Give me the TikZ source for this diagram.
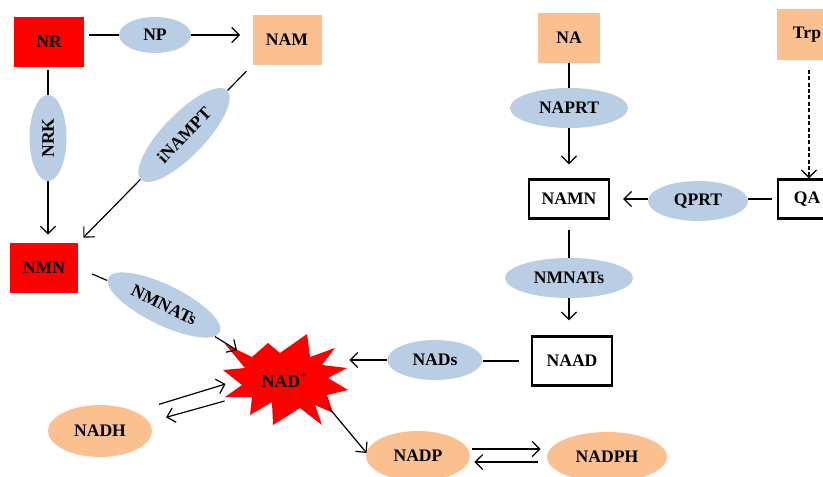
\documentclass[tikz,border=0pt]{standalone}
\usepackage{fontspec}
\setmainfont{Liberation Serif}
\usepackage{tikz}
\usetikzlibrary{shapes,arrows}
\usetikzlibrary{positioning}
\usetikzlibrary{calc}
\usetikzlibrary{arrows.meta}
\definecolor{peach}{HTML}{FAC090}
\definecolor{enzblue}{HTML}{B9CDE5}
\tikzset{>=stealth}
\tikzstyle{line} = [draw, line width=0.6pt, -{Straight Barb[length=3.8pt,width=7.5pt]}]

\begin{document}
\begin{tikzpicture}[
  x=0.5pt, y=-0.5pt,
  every node/.style={font=\bfseries\fontsize{8.8}{10}\selectfont, inner sep=0pt},
  box/.style={rectangle, minimum width=#1, minimum height=25pt},
  redbox/.style={box=#1, fill=red},
  srcbox/.style={box=#1, fill=peach},
  midbox/.style={box=#1, draw, line width=1.1pt, fill=white, minimum height=19.5pt},
  enz/.style={ellipse, fill=enzblue, minimum width=#1, minimum height=20pt},
  cof/.style={ellipse, fill=peach, minimum width=#1, minimum height=25pt}]
  \useasboundingbox (0,0) rectangle (823,476);
	%% States
	\node [redbox=35pt] at (49,42) (NR) {NR};
	\node [enz=36pt, minimum height=18pt] at (155,35) (NP) {NP};
	\node [srcbox=34.5pt] at (287,40) (NAM) {NAM};
	\node [enz=43pt, minimum height=18.5pt, rotate=90] at (48,138) (NRK) {NRK};
	\node [redbox=34pt] at (44,268) (NMN) {NMN};
	\node [enz=62pt, minimum height=21pt, rotate=46] at (184,135) (iNAMPT) {iNAMPT};
	\node [enz=62pt, rotate=-26] at (164,305) (NMNATsA) {NMNATs};
	\node [srcbox=31pt] at (569,38) (NA) {NA};
	\node [srcbox=30pt, minimum height=25.5pt] at (807,35) (Trp) {Trp};
	\node [enz=59pt] at (569,108) (NAPRT) {NAPRT};
	\node [midbox=40pt] at (569,199) (NAMN) {NAMN};
	\node [enz=50pt] at (698,201) (QPRT) {QPRT};
	\node [midbox=29pt] at (807,199) (QA) {QA};
	\node [enz=64pt] at (569,278) (NMNATsB) {NMNATs};
	\node [midbox=40pt, minimum height=24.5pt] at (572,361) (NAAD) {NAAD};
	\node [enz=47.5pt] at (435,360) (NADs) {NADs};
	\fill [red] (225,344) -- (252,357) -- (268,343) -- (280,353) -- (307,334) -- (310,357)
	  -- (335,348) -- (322,365) -- (347,368) -- (328,378) -- (348,390) -- (327,395)
	  -- (333,413) -- (315,405) -- (322,425) -- (300,408) -- (273,425) -- (272,402)
	  -- (250,415) -- (252,397) -- (225,397) -- (242,385) -- (223,370) -- (245,368) -- cycle;
	\node [ellipse, minimum width=62pt, minimum height=46pt] at (285,380) (NAD) {NAD\textsuperscript{+}};
	\node [cof=52pt, minimum height=26pt] at (100,431) (NADH) {NADH};
	\node [cof=52pt] at (418,456) (NADP) {NADP};
	\node [cof=60pt] at (607,457) (NADPH) {NADPH};
	%% Flows
	\draw [line width=0.6pt, shorten <=2.5pt] (NR.east |- NP) -- (NP);
	\path [line, shorten >=6pt] (NP) to (NAM.west |- NP);
	\draw [line width=0.6pt, shorten <=1.5pt] (NRK.east |- NR.south) -- (NRK);
	\path [line, shorten >=4pt] (NRK.west) to (NRK.west |- NMN.north);
	\draw [line width=0.6pt, shorten <=4pt] (NAM.south west) -- (iNAMPT);
	\path [line, shorten >=3.5pt] (iNAMPT) to (NMN.north east);
	\draw [line width=0.6pt, shorten <=7.5pt] (NMN.east) -- (NMNATsA);
	\path [line] (NMNATsA) to (NAD);
	\draw [line width=0.6pt] (NA) -- (NAPRT);
	\path [line, shorten >=7pt] (NAPRT) to (NAMN);
	\path [line, dashed, dash pattern=on 2pt off 1.2pt, shorten <=4.5pt] ([xshift=1pt]Trp.south) to ([xshift=1pt]QA.north);
	\draw [line width=0.6pt, shorten <=2.5pt] (QA.west) -- (QPRT.east |- QA.west);
	\path [line, shorten >=6.5pt] (QPRT.west |- NAMN.east) to (NAMN.east);
	\draw [line width=0.6pt, shorten <=5pt] (NAMN) -- (NMNATsB);
	\path [line, shorten >=7.5pt] (NMNATsB.south) to (NMNATsB.south |- NAAD.north);
	\draw [line width=0.6pt, shorten <=6pt] (NAAD.west) -- (NADs.east |- NAAD.west);
	\path [line, shorten >=1pt] (NADs.west) to (NADs.west -| NAD.east);
	\path [line] ([shift={(22,-8)}]NADH.north east) to ([shift={(3,4)}]NAD.west);
	\path [line] ([shift={(2,21)}]NAD.west) to ([shift={(29,5)}]NADH.north east);
	\path [line] ([shift={(-1,-6)}]NAD.south east) to ([shift={(1,-3)}]NADP.west);
	\path [line] ([shift={(2,-7)}]NADP.east) to ([shift={(-6,-8)}]NADPH.west);
	\path [line] ([shift={(-9,5)}]NADPH.west) to ([shift={(4,6)}]NADP.east);
\end{tikzpicture}
\end{document}
